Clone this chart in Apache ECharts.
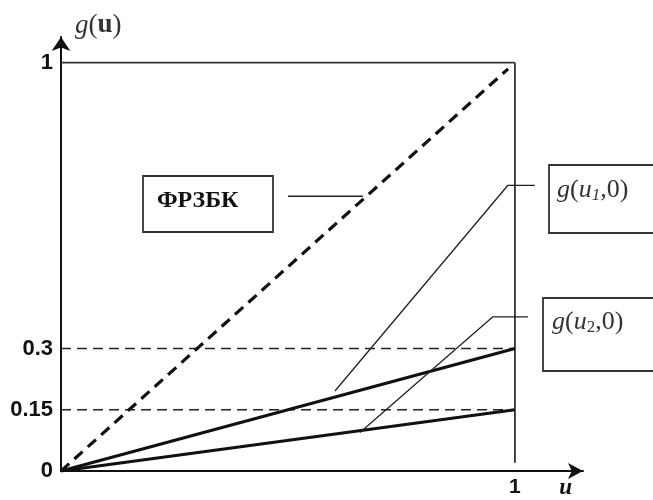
<!DOCTYPE html>
<html><head><meta charset="utf-8">
<script src="https://cdn.jsdelivr.net/npm/echarts@6/dist/echarts.min.js"></script>
<style>html,body{margin:0;padding:0;background:#fff}#c{width:653px;height:500px}</style>
</head><body><div id="c"></div>
<script>
// data
const yTickValues = [0, 0.15, 0.3, 1];
const xTickValues = [1, 1.112];
const frzbkLine = [[0, 0], [0.985, 0.985]];
const g1Line = [[0, 0], [1, 0.3]];
const g2Line = [[0, 0], [1, 0.15]];
const level1 = [[0, 0.3], [1, 0.3]];
const level2 = [[0, 0.15], [1, 0.15]];
const frameTop = [[0, 1], [1, 1]];
const frameRight = [[1, 1], [1, 0.02]];
const leaderFrzbk = [[0.5, 0.673], [0.665, 0.673]];
const leaderG1 = [[0.6035, 0.196], [0.9846, 0.6998], [1.044, 0.6998]];
const leaderG2 = [[0.6586, 0.0944], [0.9515, 0.3777], [1.0286, 0.3777]];

const chart = echarts.init(document.getElementById('c'));
function ln(data, w, color, type) {
  return {type: 'line', data: data, symbol: 'none', silent: true, animation: false,
    lineStyle: {width: w, color: color, type: type || 'solid', cap: 'butt'}};
}
chart.setOption({
  animation: false,
  grid: {left: 61, right: 70, top: 37, bottom: 24},
  xAxis: {
    type: 'value', min: 0, max: 1.15,
    splitLine: {show: false},
    axisTick: {show: false},
    axisLine: {lineStyle: {color: '#111', width: 2}, symbol: ['none', 'arrow'], symbolSize: [12, 15]},
    axisLabel: {
      customValues: xTickValues, margin: 6, showMaxLabel: true,
      formatter: v => v === 1 ? '{b|1}' : '{i|u}',
      rich: {
        b: {fontFamily: 'Liberation Sans', fontWeight: 'bold', fontSize: 21, color: '#111'},
        i: {fontFamily: 'Liberation Serif', fontStyle: 'italic', fontWeight: 'bold', fontSize: 23, color: '#111'}
      }
    }
  },
  yAxis: {
    type: 'value', min: 0, max: 1.063,
    splitLine: {show: false},
    axisTick: {show: false},
    axisLine: {lineStyle: {color: '#111', width: 2}, symbol: ['none', 'arrow'], symbolSize: [14, 14]},
    axisLabel: {
      customValues: yTickValues, margin: 8,
      fontFamily: 'Liberation Sans', fontWeight: 'bold', fontSize: 22, color: '#111',
      formatter: v => String(v)
    },
    name: '{g|g}{n|(}{u|u}{n|)}',
    nameLocation: 'end', nameGap: -2,
    nameTextStyle: {
      align: 'left', padding: [0, 0, 0, 14],
      rich: {
        g: {fontFamily: 'Liberation Serif', fontStyle: 'italic', fontSize: 27, color: '#333'},
        n: {fontFamily: 'Liberation Serif', fontSize: 27, color: '#333'},
        u: {fontFamily: 'Liberation Serif', fontWeight: 'bold', fontSize: 27, color: '#333'}
      }
    }
  },
  series: [
    ln(frameTop, 1.8, '#333'),
    ln(frameRight, 1.8, '#333'),
    ln(level1, 1.6, '#222', [10, 6]),
    ln(level2, 1.6, '#222', [10, 6]),
    ln(frzbkLine, 3.2, '#111', [11, 7]),
    ln(g1Line, 3.2, '#111'),
    ln(g2Line, 3.2, '#111'),
    ln(leaderFrzbk, 1.3, '#222'),
    ln(leaderG1, 1.3, '#222'),
    ln(leaderG2, 1.3, '#222')
  ],
  graphic: [
    {type: 'rect', shape: {x: 143, y: 176, width: 130, height: 56}, style: {fill: '#fff', stroke: '#333', lineWidth: 1.8}},
    {type: 'text', x: 157, y: 201, style: {text: 'ФРЗБК', font: 'bold 24px "Liberation Serif"', fill: '#111', verticalAlign: 'middle'}},
    {type: 'rect', shape: {x: 549, y: 165, width: 120, height: 68}, style: {fill: '#fff', stroke: '#333', lineWidth: 1.8}},
    {type: 'text', x: 557, y: 190, style: {
      text: '{i|g}{n|(}{i|u}{s|1}{n|,0)}', verticalAlign: 'middle',
      rich: {
        i: {fontFamily: 'Liberation Serif', fontStyle: 'italic', fontSize: 26, fill: '#333'},
        n: {fontFamily: 'Liberation Serif', fontSize: 26, fill: '#333'},
        s: {fontFamily: 'Liberation Serif', fontStyle: 'italic', fontSize: 17, fill: '#333', padding: [11, 0, 0, 0]}
      }}},
    {type: 'rect', shape: {x: 543, y: 298, width: 120, height: 73}, style: {fill: '#fff', stroke: '#333', lineWidth: 1.8}},
    {type: 'text', x: 552, y: 322, style: {
      text: '{i|g}{n|(}{i|u}{s|2}{n|,0)}', verticalAlign: 'middle',
      rich: {
        i: {fontFamily: 'Liberation Serif', fontStyle: 'italic', fontSize: 26, fill: '#333'},
        n: {fontFamily: 'Liberation Serif', fontSize: 26, fill: '#333'},
        s: {fontFamily: 'Liberation Serif', fontSize: 17, fill: '#333', padding: [11, 0, 0, 0]}
      }}}
  ]
});
</script></body></html>
